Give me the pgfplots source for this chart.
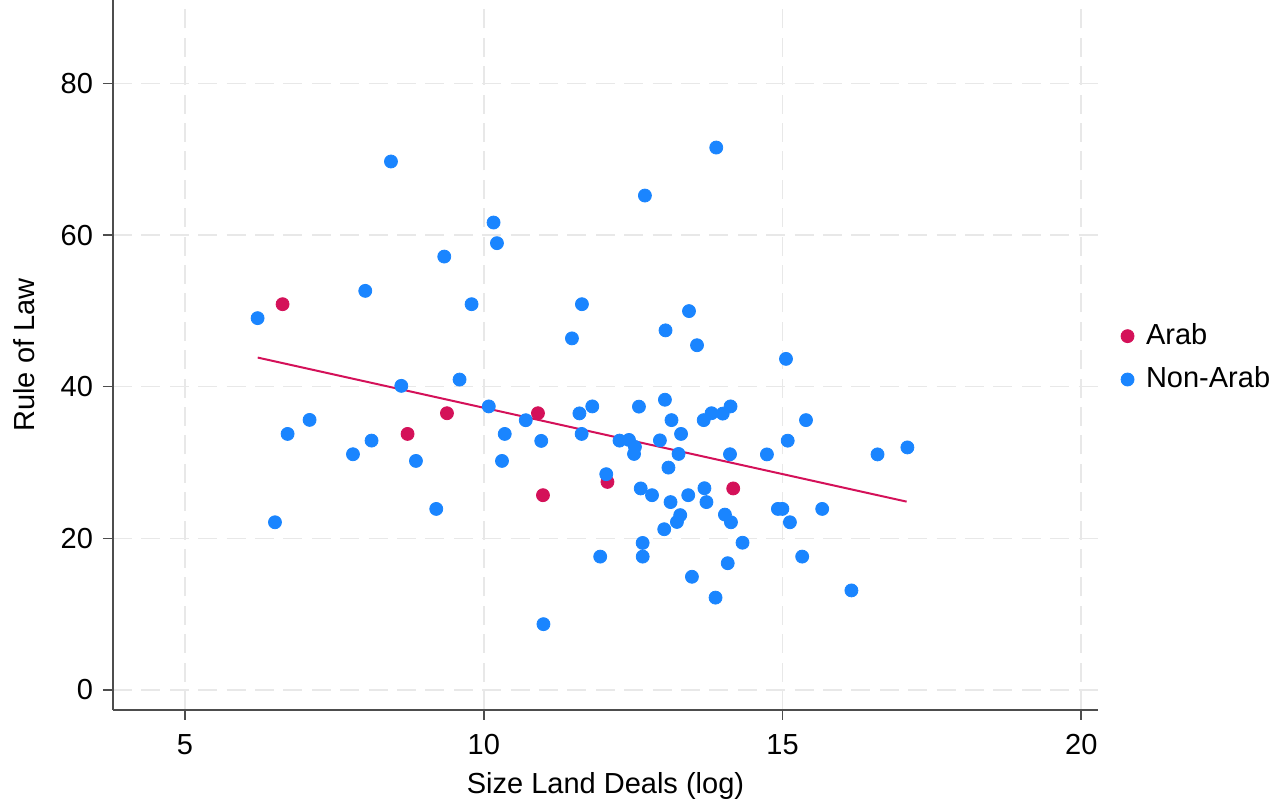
\documentclass[border=0pt]{standalone}
\usepackage{fontspec}
\setmainfont{Liberation Sans}
\usepackage{pgfplots}
\pgfplotsset{compat=1.18}
\definecolor{arab}{HTML}{D41159}
\definecolor{nonarab}{HTML}{1A85FF}
\definecolor{gridc}{HTML}{E8E8E8}
\definecolor{axc}{HTML}{4D4D4D}

\begin{document}
\fontsize{14.5}{17.5}\selectfont
\begin{tikzpicture}
\begin{axis}[
    scale only axis,
    width=492.5pt, height=355pt,
    xmin=3.795, xmax=20.28, ymin=-2.64, ymax=91,
    axis x line*=bottom, axis y line*=left,
    axis line style={axc, line width=1pt},
    xtick={5,10,15,20}, ytick={0,20,40,60,80},
    tick align=outside, major tick length=5pt,
    tick style={axc, line width=0.8pt},
    xticklabel style={yshift=-2pt},
    grid=major,
    major grid style={gridc, line width=0.8pt, dash pattern=on 9.5pt off 4.7pt},
    /pgf/number format/assume math mode=true,
    xlabel={Size Land Deals (log)},
    ylabel={Rule of Law},
    every axis x label/.style={at={(axis description cs:0.5,0)}, anchor=north, yshift=-26pt},
    every axis y label/.style={at={(axis description cs:-0.0695,0.5)}, rotate=90, anchor=south},
    legend style={draw=none, fill=none, at={(axis description cs:1.023,0.496)},
        anchor=west, row sep=5pt, inner sep=0pt,
        /tikz/every odd column/.append style={column sep=4pt}},
    legend cell align=left,
    legend image code/.code={\draw plot coordinates {(0pt,0pt)};},
]
% Arab
\addplot[only marks, mark=*, mark size=3.25pt, mark options={draw=arab, fill=arab}] coordinates {
 (6.633,50.88) (8.725,33.77) (9.384,36.50) (10.907,36.50) (10.991,25.69) (12.070,27.44) (14.175,26.58)
};
\addlegendentry{Arab}
% Non-Arab
\addplot[only marks, mark=*, mark size=3.25pt, mark options={draw=nonarab, fill=nonarab}] coordinates {
 (6.215,49.04) (8.447,69.70) (8.017,52.64) (8.620,40.11) (6.717,33.77) (7.085,35.62)
 (6.506,22.12) (7.811,31.09) (8.122,32.89) (8.865,30.21) (9.205,23.88) (9.339,57.16)
 (9.796,50.88) (9.595,40.94) (10.164,61.65) (10.221,58.93) (10.084,37.40) (10.351,33.77)
 (10.305,30.21) (10.703,35.58) (10.962,32.85) (10.999,8.68) (11.476,46.37) (11.643,50.88)
 (11.601,36.48) (11.816,37.40) (11.638,33.77) (11.949,17.59) (12.050,28.46) (12.272,32.89)
 (12.430,32.98) (12.530,32.06) (12.515,31.13) (12.597,37.37) (12.697,65.21) (12.627,26.58)
 (12.816,25.69) (12.659,19.39) (12.660,17.59) (13.042,47.43) (13.032,38.28) (12.948,32.92)
 (13.091,29.33) (13.142,35.59) (13.260,31.13) (13.302,33.77) (13.126,24.78) (13.020,21.20)
 (13.233,22.16) (13.288,23.06) (13.435,49.97) (13.422,25.69) (13.569,45.47) (13.484,14.93)
 (13.891,71.54) (13.681,35.59) (13.812,36.50) (14.000,36.45) (14.130,37.40) (13.693,26.61)
 (13.727,24.78) (13.879,12.18) (14.036,23.13) (14.137,22.12) (14.121,31.09) (14.083,16.72)
 (14.331,19.42) (14.739,31.07) (14.923,23.88) (14.998,23.88) (15.124,22.12) (15.087,32.88)
 (15.058,43.67) (15.393,35.59) (15.329,17.59) (15.664,23.88) (16.153,13.13) (16.590,31.07)
 (17.090,31.99)
};
\addlegendentry{Non-Arab}
% fitted line
\addplot[arab, line width=1pt, forget plot] coordinates {(6.217,43.84) (17.077,24.84)};
\coordinate (bl) at (rel axis cs:0,0);
\coordinate (tr) at (rel axis cs:1,1);
\end{axis}
\pgfresetboundingbox
\path ([xshift=-56.5pt, yshift=-45.5pt]bl) rectangle ([xshift=88pt]tr);
\end{tikzpicture}
\end{document}
